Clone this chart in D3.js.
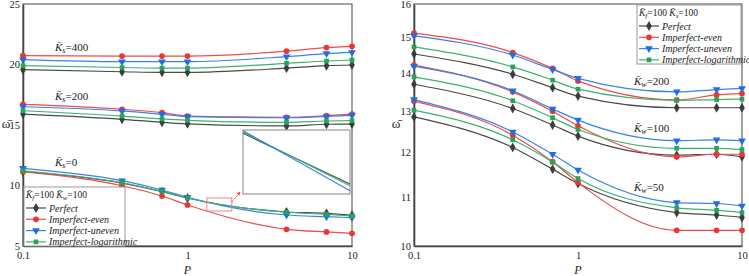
<!DOCTYPE html>
<html><head><meta charset="utf-8">
<script src="https://cdn.jsdelivr.net/npm/d3@7"></script>
<style>
body{margin:0;background:#fff}
svg text{font-family:"Liberation Serif","Times New Roman","DejaVu Serif",serif !important;fill:#222}
</style>
</head><body>
<svg id="c" width="749" height="276" font-family="Liberation Serif"></svg>
<script>
// ---------- data ----------
const P = [0.1, 0.4, 0.7, 1, 4, 7, 10];
const xTicks = [0.1, 1, 10];
const leftYTicks = [5, 10, 15, 20, 25];
const rightYTicks = [10, 11, 12, 13, 14, 15, 16];
const seriesNames = ["Perfect", "Imperfect-even", "Imperfect-uneven", "Imperfect-logarithmic"];

// left panel (varying K_s), K_f=100, K_w=100
const ks400Perfect = [19.57, 19.40, 19.35, 19.35, 19.70, 19.90, 19.96];
const ks400Even    = [20.73, 20.70, 20.70, 20.70, 21.10, 21.40, 21.50];
const ks400Uneven  = [20.40, 20.23, 20.23, 20.23, 20.65, 20.90, 21.00];
const ks400Log     = [19.90, 19.75, 19.70, 19.70, 20.10, 20.29, 20.37];

const ks200Perfect = [15.90, 15.47, 15.22, 15.10, 14.92, 15.06, 15.08];
const ks200Even    = [16.71, 16.30, 16.02, 15.74, 15.64, 15.77, 15.90];
const ks200Uneven  = [16.51, 16.16, 15.88, 15.69, 15.60, 15.71, 15.80];
const ks200Log     = [16.18, 15.74, 15.50, 15.39, 15.22, 15.33, 15.36];

const ks0Perfect = [11.14, 10.20, 9.50, 8.97, 7.81, 7.70, 7.54];
const ks0Even    = [11.14, 9.98, 9.13, 8.39, 6.38, 6.16, 6.05];
const ks0Uneven  = [11.42, 10.40, 9.63, 9.02, 7.56, 7.42, 7.34];
const ks0Log     = [11.22, 10.23, 9.52, 8.97, 7.79, 7.62, 7.48];

// inset (zoom of K_s=0 curves)
const insetP = [1.31, 1.86];
const insetOmega = [7.89, 8.97];
const insetPerfect = [8.914, 8.059];
const insetUneven  = [8.958, 7.946];
const insetLog     = [8.936, 8.030];

// right panel (varying K_w), K_f=100, K_s=100
const kw200Perfect = [14.52, 13.96, 13.60, 13.38, 13.08, 13.08, 13.08];
const kw200Even    = [15.12, 14.56, 14.12, 13.78, 13.28, 13.41, 13.45];
const kw200Uneven  = [15.04, 14.49, 14.09, 13.85, 13.49, 13.55, 13.58];
const kw200Log     = [14.72, 14.16, 13.80, 13.56, 13.27, 13.29, 13.30];

const kw100Perfect = [13.69, 13.06, 12.65, 12.38, 11.93, 11.95, 11.89];
const kw100Even    = [14.21, 13.49, 12.99, 12.63, 11.89, 11.95, 11.95];
const kw100Uneven  = [14.18, 13.52, 13.05, 12.77, 12.27, 12.29, 12.27];
const kw100Log     = [13.89, 13.26, 12.83, 12.54, 12.09, 12.09, 12.06];

const kw50Perfect = [12.85, 12.11, 11.61, 11.29, 10.67, 10.62, 10.57];
const kw50Even    = [13.25, 12.40, 11.78, 11.31, 10.31, 10.31, 10.31];
const kw50Uneven  = [13.29, 12.48, 11.95, 11.59, 10.88, 10.86, 10.81];
const kw50Log     = [13.02, 12.29, 11.77, 11.40, 10.77, 10.72, 10.67];

// ---------- styles ----------
const FONT = "Liberation Serif, Times New Roman, serif";
const lineColors   = ["#4a4a4a", "#f04a4a", "#3a82e6", "#3cb371"];
const markerColors = ["#3d3d3d", "#ee3535", "#1f6fe0", "#27a35a"];
const markerTypes  = [d3.symbolDiamond, d3.symbolCircle, d3.symbolTriangle, d3.symbolSquare];
const markerSizes  = [28, 26, 26, 22];
const markerRot    = [0, 0, 180, 0];

const svg = d3.select("#c");

function addKLabel(g, x, y, sub, val, fs) {
  const t = g.append("text").attr("x", x).attr("y", y).attr("font-size", fs).attr("font-family", FONT);
  t.append("tspan").attr("font-style", "italic").text("K\u0304");
  t.append("tspan").attr("font-style", "italic").attr("font-size", fs * 0.72).attr("dy", 2).text(sub);
  t.append("tspan").attr("dy", -2).text("=" + val);
  return t;
}

function drawMarker(g, type, x, y) {
  g.append("path")
    .attr("d", d3.symbol().type(markerTypes[type]).size(markerSizes[type])())
    .attr("transform", `translate(${x},${y}) rotate(${markerRot[type]})`)
    .attr("fill", markerColors[type]);
}

function panel(cfg) {
  const g = svg.append("g");
  const x = d3.scaleLog().domain([0.1, 10]).range([cfg.x0, cfg.x1]);
  const y = cfg.yScale;
  g.append("rect").attr("x", cfg.x0).attr("y", 4).attr("width", cfg.x1 - cfg.x0).attr("height", 242)
    .attr("fill", "none").attr("stroke", "#666").attr("stroke-width", 1.2);
  const ax = g.append("g").attr("transform", `translate(0,246)`)
    .call(d3.axisBottom(x).tickValues(xTicks).tickFormat(d => String(d)).tickSize(0).tickPadding(6));
  ax.attr("font-family", FONT);
  ax.select(".domain").attr("stroke", "#444").attr("stroke-width", 1.6);
  ax.selectAll("text").attr("font-size", 10.5).attr("fill", "#222");
  const ay = g.append("g").attr("transform", `translate(${cfg.x0},0)`)
    .call(d3.axisLeft(y).tickValues(cfg.yTicks).tickFormat(d3.format("d")).tickSize(0).tickPadding(3));
  ay.attr("font-family", FONT);
  ay.select(".domain").attr("stroke", "#444").attr("stroke-width", 1.6);
  ay.selectAll("text").attr("font-size", 10.5).attr("fill", "#222");
  g.append("text").attr("x", x(1)).attr("y", 274).attr("font-family", FONT)
    .attr("text-anchor", "middle").attr("font-style", "italic").attr("font-size", 12).text("P");
  g.append("text").attr("x", cfg.yLabelX).attr("y", 128).attr("text-anchor", "middle").attr("font-family", FONT)
    .attr("font-size", 13).text("\u03C9\u0304");

  const line = d3.line().x((d, i) => x(P[i])).y(d => y(d)).curve(d3.curveMonotoneX);
  cfg.groups.forEach(grp => {
    grp.forEach((vals, s) => {
      g.append("path").attr("d", line(vals)).attr("fill", "none")
        .attr("stroke", lineColors[s]).attr("stroke-width", 1.2);
    });
    grp.forEach((vals, s) => {
      vals.forEach((v, i) => drawMarker(g, s, x(P[i]), y(v)));
    });
  });
  return {g, x, y};
}

// ---------- left panel ----------
const yL = d3.scaleLinear().domain([5, 25]).range([246, 4]);
const L = panel({
  x0: 23, x1: 352, yScale: yL, yTicks: leftYTicks, yLabelX: 6,
  groups: [
    [ks400Perfect, ks400Even, ks400Uneven, ks400Log],
    [ks200Perfect, ks200Even, ks200Uneven, ks200Log],
    [ks0Perfect, ks0Even, ks0Uneven, ks0Log]
  ]
});
addKLabel(L.g, 55, 51, "s", "400", 11);
addKLabel(L.g, 55, 100, "s", "200", 11);
addKLabel(L.g, 55, 166, "s", "0", 11);

// inset
const ix = d3.scaleLog().domain(insetP).range([243, 350]);
const iy = d3.scaleLinear().domain(insetOmega).range([194, 130]);
L.g.append("rect").attr("x", 243).attr("y", 130).attr("width", 107).attr("height", 64)
  .attr("fill", "#fff").attr("stroke", "#999").attr("stroke-width", 1.2);
[[insetPerfect, 0], [insetLog, 3], [insetUneven, 2]].forEach(([vals, s]) => {
  L.g.append("line").attr("x1", ix(insetP[0])).attr("y1", iy(vals[0]))
    .attr("x2", ix(insetP[1])).attr("y2", iy(vals[1]))
    .attr("stroke", lineColors[s]).attr("stroke-width", 1.1);
});
L.g.append("rect").attr("x", L.x(insetP[0])).attr("y", L.y(insetOmega[1]))
  .attr("width", L.x(insetP[1]) - L.x(insetP[0])).attr("height", L.y(insetOmega[0]) - L.y(insetOmega[1]))
  .attr("fill", "none").attr("stroke", "#f28080").attr("stroke-width", 1);
svg.append("defs").append("marker").attr("id", "ah").attr("viewBox", "0 0 6 6").attr("refX", 5).attr("refY", 3)
  .attr("markerWidth", 4).attr("markerHeight", 4).attr("orient", "auto")
  .append("path").attr("d", "M0,0L6,3L0,6Z").attr("fill", "#f04a4a");
L.g.append("line").attr("x1", L.x(insetP[1])).attr("y1", L.y(insetOmega[1]) + 4)
  .attr("x2", 240).attr("y2", 192).attr("stroke", "#f04a4a").attr("stroke-width", 1)
  .attr("stroke-dasharray", "2,1.5").attr("marker-end", "url(#ah)");

// ---------- right panel ----------
const yR = d3.scaleLog().domain([10, 16]).range([246, 4]);
const R = panel({
  x0: 414, x1: 742, yScale: yR, yTicks: rightYTicks, yLabelX: 396,
  groups: [
    [kw200Perfect, kw200Even, kw200Uneven, kw200Log],
    [kw100Perfect, kw100Even, kw100Uneven, kw100Log],
    [kw50Perfect, kw50Even, kw50Uneven, kw50Log]
  ]
});
addKLabel(R.g, 634, 85, "w", "200", 11);
addKLabel(R.g, 634, 132, "w", "100", 11);
addKLabel(R.g, 634, 191, "w", "50", 11);

// ---------- legends ----------
function legend(x0, y0, w, subA, subB) {
  const g = svg.append("g").attr("font-family", FONT);
  g.append("rect").attr("x", x0).attr("y", y0).attr("width", w).attr("height", 59)
    .attr("fill", "#fff").attr("stroke", "#999").attr("stroke-width", 1);
  const t = g.append("text").attr("x", x0 + 2).attr("y", y0 + 11).attr("font-size", 9.5);
  t.append("tspan").attr("font-style", "italic").text("K\u0304");
  t.append("tspan").attr("font-style", "italic").attr("font-size", 7).attr("dy", 2).text(subA);
  t.append("tspan").attr("dy", -2).text("=100 ");
  t.append("tspan").attr("font-style", "italic").text("K\u0304");
  t.append("tspan").attr("font-style", "italic").attr("font-size", 7).attr("dy", 2).text(subB);
  t.append("tspan").attr("dy", -2).text("=100");
  seriesNames.forEach((name, s) => {
    const yy = y0 + 21 + s * 11.3;
    g.append("line").attr("x1", x0 + 2).attr("x2", x0 + 22).attr("y1", yy).attr("y2", yy)
      .attr("stroke", lineColors[s]).attr("stroke-width", 1.2);
    drawMarker(g, s, x0 + 12, yy);
    g.append("text").attr("x", x0 + 25).attr("y", yy + 3.5).attr("font-size", 10)
      .attr("font-style", "italic").text(name);
  });
}
legend(24, 187, 101, "f", "w");
legend(637, 5, 104, "f", "s");
</script>
</body></html>
